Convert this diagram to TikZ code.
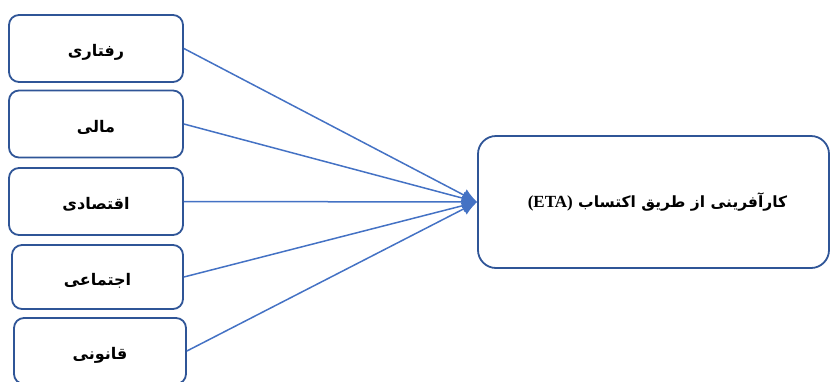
\documentclass[tikz,border=0pt]{standalone}
\usepackage{fontspec}
\usetikzlibrary{arrows.meta}
\TeXXeTstate=1
\newfontfamily\arabicfont[Script=Arabic]{DejaVu Sans}
\newfontfamily\latinserif{Liberation Serif}
\definecolor{boxline}{HTML}{2F5597}
\definecolor{conn}{HTML}{4472C4}
\newcommand{\lowered}[1]{\raisebox{-8pt}[0pt][0pt]{#1}}
\tikzset{
  factor/.style={draw=boxline, line width=1.8pt, rounded corners=10pt, minimum width=174pt, minimum height=67pt, inner sep=0pt, font=\arabicfont\bfseries\fontsize{16}{19}\selectfont},
  goal/.style={draw=boxline, line width=1.8pt, rounded corners=18pt, minimum width=351pt, minimum height=132pt, inner sep=0pt, font=\arabicfont\bfseries\fontsize{15.5}{18}\selectfont},
  link/.style={draw=conn, line width=1.5pt, -{Latex[length=15pt,width=13pt]}}
}
\begin{document}
\begin{tikzpicture}[x=1pt,y=-1pt]
\useasboundingbox (0,0) rectangle (831,381);
\clip (0,0) rectangle (831,381);
\node[factor] (b1) at (96,48.5) {\lowered{\beginR رفتاری\endR}};
\node[factor] (b2) at (96,124) {\lowered{\beginR مالی\endR}};
\node[factor] (b3) at (96,201.5) {\lowered{\beginR اقتصادی\endR}};
\node[factor, minimum width=171pt, minimum height=64pt] (b4) at (97.5,277) {\lowered{\beginR اجتماعی\endR}};
\node[factor, minimum width=172pt, minimum height=66pt] (b5) at (100,351) {\lowered{\beginR قانونی\endR}};
\node[goal] (g) at (653.5,202) {\hspace{8pt}\beginR کارآفرینی از طریق اکتساب \beginL{\latinserif\bfseries\fontsize{17}{20}\selectfont(ETA)}\endL\endR};
\foreach \n in {b1,b2,b3,b4,b5} \draw[link] (\n.east) -- (g.west);
\end{tikzpicture}
\end{document}
